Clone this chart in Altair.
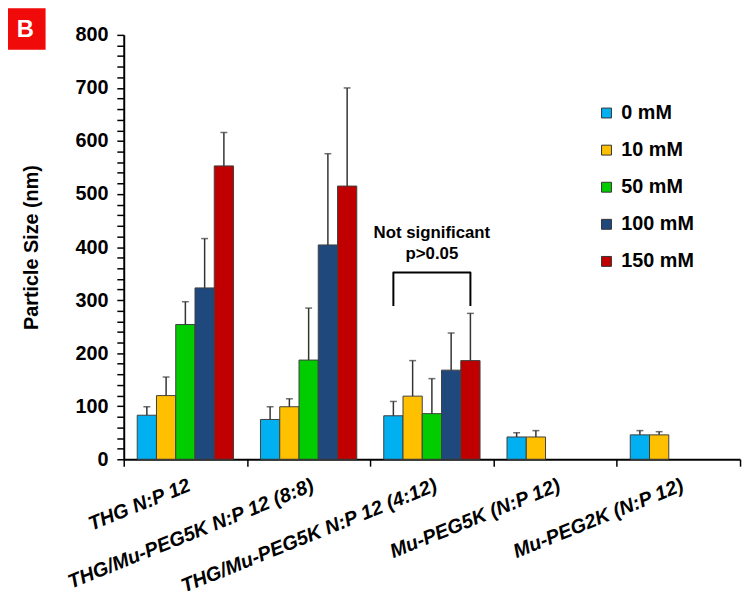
import altair as alt
import pandas as pd

groups = ["THG N:P 12", "THG/Mu-PEG5K N:P 12 (8:8)", "THG/Mu-PEG5K N:P 12 (4:12)",
          "Mu-PEG5K (N:P 12)", "Mu-PEG2K (N:P 12)"]
series = ["0 mM", "10 mM", "50 mM", "100 mM", "150 mM"]
colors = ["#00B0F0", "#FFC000", "#00CC00", "#1F497D", "#C00000"]

mean_0 = [83, 75, 82, 42, 46]
mean_10 = [120, 99, 119, 42, 46]
mean_50 = [254, 187, 86, None, None]
mean_100 = [323, 404, 168, None, None]
mean_150 = [553, 515, 186, None, None]

err_0 = [16, 24, 27, 8, 8]
err_10 = [35, 15, 67, 12, 6]
err_50 = [43, 98, 66, None, None]
err_100 = [93, 172, 70, None, None]
err_150 = [63, 185, 89, None, None]

means = [mean_0, mean_10, mean_50, mean_100, mean_150]
errs = [err_0, err_10, err_50, err_100, err_150]

y_ticks = list(range(0, 801, 20))

# bracket annotation (group 3)
bracket_group = groups[2]
bracket_series = ["0 mM", "0 mM", "150 mM", "150 mM"]
bracket_y = [289, 352, 352, 289]
note_lines = ["Not significant", "p>0.05"]
note_y = [426, 387]

rows = []
for s, m_list, e_list in zip(series, means, errs):
    for g, m, e in zip(groups, m_list, e_list):
        if m is not None:
            rows.append({"group": g, "series": s, "mean": m, "err": e})
df = pd.DataFrame(rows)

bdf = pd.DataFrame({"group": [bracket_group] * 4, "series": bracket_series,
                    "y": bracket_y, "order": list(range(4))})
tdf = pd.DataFrame({"group": [bracket_group] * 2, "series": ["50 mM"] * 2,
                    "y": note_y, "text": note_lines})

x_enc = alt.X("group:N", sort=groups, scale=alt.Scale(domain=groups, paddingInner=0, paddingOuter=0),
              axis=alt.Axis(title=None, labelAngle=-22, labelAlign="right", labelBaseline="top",
                            labelFontSize=20, labelFontWeight="bold", labelFontStyle="italic",
                            labelPadding=9, tickBand="extent", tickSize=7, labelLimit=400,
                            labelOverlap=False))
xo_scale = alt.Scale(domain=series, paddingInner=0, paddingOuter=0.7)
xo_enc = alt.XOffset("series:N", sort=series, scale=xo_scale)
y_scale = alt.Scale(domain=[0, 800], nice=False)
y_axis = alt.Axis(title="Particle Size (nm)", values=y_ticks, tickCount=len(y_ticks),
                  labelExpr="datum.value % 100 === 0 ? datum.label : ''",
                  labelOverlap=False, labelFlush=False,
                  labelFontSize=20, labelFontWeight="bold", labelPadding=9, tickSize=7,
                  titleFontSize=20, titleFontWeight="bold", titlePadding=34, grid=False)

base = alt.Chart(df)

bars = base.mark_bar(stroke="#404040", strokeWidth=1).encode(
    x=x_enc, xOffset=xo_enc,
    y=alt.Y("mean:Q", scale=y_scale, axis=y_axis),
    color=alt.Color("series:N", sort=series, scale=alt.Scale(domain=series, range=colors),
                    legend=alt.Legend(title=None, orient="none", legendX=478, legendY=69,
                                      symbolType="square", symbolSize=100,
                                      symbolStrokeColor="#333333", symbolStrokeWidth=1,
                                      labelFontSize=20, labelFontWeight="bold",
                                      labelOffset=5, rowPadding=17.5)),
)

err_rules = base.transform_calculate(top="datum.mean + datum.err").mark_rule(
    color="#333333", strokeWidth=1.5).encode(
    x=x_enc, xOffset=xo_enc, y=alt.Y("mean:Q", scale=y_scale), y2="top:Q")

err_caps = base.transform_calculate(top="datum.mean + datum.err").mark_tick(
    color="#333333", thickness=1.5, size=7).encode(
    x=x_enc, xOffset=xo_enc, y=alt.Y("top:Q", scale=y_scale))

bracket = alt.Chart(bdf).mark_line(color="black", strokeWidth=2, strokeJoin="round").encode(
    x=x_enc, xOffset=alt.XOffset("series:N", sort=series, bandPosition=0, scale=xo_scale),
    y=alt.Y("y:Q", scale=y_scale), order="order:Q")

note = alt.Chart(tdf).mark_text(fontSize=17, fontWeight="bold", color="black", baseline="middle").encode(
    x=x_enc, xOffset=xo_enc, y=alt.Y("y:Q", scale=y_scale), text="text:N")

badge_df = pd.DataFrame({"label": ["B"]})
badge = alt.Chart(badge_df).mark_rect(color="#F00A0A").encode(
    x=alt.value(-120), x2=alt.value(-79), y=alt.value(-27), y2=alt.value(15))
badge_text = alt.Chart(badge_df).mark_text(color="white", fontSize=24, fontWeight="bold",
                                           baseline="middle", align="center").encode(
    x=alt.value(-99.5), y=alt.value(-5), text="label:N")

chart = alt.layer(bars, err_rules, err_caps, bracket, note, badge, badge_text).properties(
    width=623, height=429,
    autosize=alt.AutoSizeParams(type="none"),
    padding={"left": 117, "top": 24, "right": 4, "bottom": 130},
).configure(font="Liberation Sans").configure_view(stroke=None).configure_axis(
    domainColor="black", domainWidth=2, tickColor="black", tickWidth=1.5, labelColor="black",
    titleColor="black")

chart.save("out.html", embed_options={"renderer": "svg", "actions": False})
